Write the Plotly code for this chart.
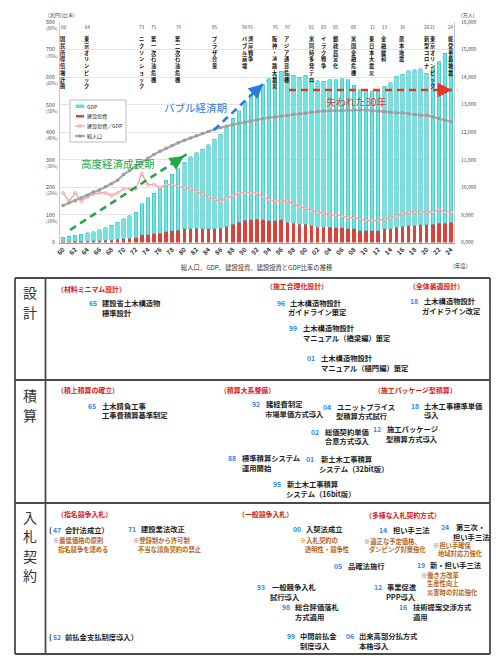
import plotly.graph_objects as go

# ---------------- data ----------------
years = list(range(1960, 2025))
gdp = [16, 20, 22, 26, 30, 33, 39, 45, 53, 62,
       73, 81, 92, 113, 134, 148, 167, 186, 204, 222,
       243, 261, 274, 289, 306, 325, 341, 362, 385, 405,
       430, 456, 476, 490, 515, 530, 540, 540, 537, 534,
       540, 532, 530, 530, 535, 538, 542, 542, 521, 511,
       509, 506, 506, 518, 531, 548, 553, 563, 566, 567,
       550, 568, 586, 616, 628]
construction = [3, 3, 4, 4, 5, 6, 7, 8, 9, 11,
                14, 16, 18, 28, 28, 31, 33, 39, 43, 45,
                49, 50, 51, 50, 49, 50, 51, 58, 66, 73,
                81, 82, 85, 82, 79, 79, 82, 74, 70, 66,
                66, 61, 56, 55, 55, 53, 53, 49, 49, 43,
                43, 43, 43, 49, 49, 56, 58, 61, 61, 64,
                64, 66, 70, 70, 74]
ratio_pct = [18, 15, 18, 15, 16.5, 17.5, 18, 18, 17, 18,
             19.5, 19.5, 19.5, 25, 21, 21, 20, 21, 21, 20.5,
             20, 19.5, 18.5, 17.5, 16.5, 15.5, 15, 16, 17, 18,
             18, 18, 18, 16.5, 15.5, 15, 15, 15, 14, 13,
             12.5, 11.5, 11, 10.5, 10, 10, 9.5, 9, 9, 8.5,
             8, 8, 8, 8.5, 9, 9.5, 10.5, 11, 11, 11,
             11, 11, 12, 11, 11]
population = [9342, 9429, 9518, 9616, 9718, 9828, 9904, 10020, 10133, 10254,
              10467, 10614, 10760, 10910, 11057, 11194, 11309, 11417, 11519, 11615,
              11706, 11790, 11873, 11954, 12031, 12105, 12166, 12224, 12275, 12321,
              12361, 12410, 12457, 12494, 12527, 12557, 12586, 12616, 12649, 12669,
              12693, 12732, 12749, 12769, 12779, 12777, 12790, 12803, 12808, 12803,
              12806, 12783, 12759, 12741, 12724, 12709, 12704, 12671, 12644, 12617,
              12615, 12550, 12495, 12435, 12380]

left_ticks = [0, 100, 200, 300, 400, 500, 600, 700, 800]
left_pct = ["", "(10%)", "(20%)", "(30%)", "(40%)", "(50%)", "(60%)", "(70%)", "(80%)"]
right_ticks = list(range(8000, 16001, 1000))
x_ticks = years[::2]
x_ticktext = ["<b>%02d</b>" % (y % 100) for y in x_ticks]

event_years = [1960, 1964, 1973, 1975, 1979, 1985, 1990, 1991, 1995, 1997,
               2001, 2003, 2005, 2008, 2011, 2013, 2016, 2020, 2021, 2024]
event_labels = ["60", "64", "73", "75", "79", "85", "90", "91", "95", "97",
                "01", "03", "05", "08", "11", "13", "16", "20", "21", "24"]
event_texts = ["国民所得倍増計画", "東京オリンピック", "ニクソンショック", "第一次石油危機",
               "第二次石油危機", "プラザ合意", "バブル崩壊", "湾岸戦争", "阪神・淡路大震災",
               "アジア通貨危機", "米同時多発テロ", "イラク戦争", "郵政民営化", "米国金融危機",
               "東日本大震災", "金融緩和", "熊本地震", "新型コロナ", "東京オリンピック", "能登半島地震"]

FONT = "Noto Sans CJK JP"
W, H = 500, 660


def X(px):
    return px / W


def Y(py):
    return 1 - py / H


# ---------------- traces ----------------
fig = go.Figure()
fig.add_trace(go.Bar(x=years, y=construction, name="建設投資",
                     marker=dict(color="#d8433c", line=dict(width=0)), showlegend=False))
fig.add_trace(go.Bar(x=years, y=gdp, name="GDP",
                     marker=dict(color="#6ee4e4", line=dict(color="#3dbdbd", width=0.6)),
                     showlegend=False))
fig.add_trace(go.Scatter(x=years, y=[r * 10 for r in ratio_pct], name="建設投資／GDP",
                         mode="lines+markers",
                         line=dict(color="#f29c9c", width=1.2),
                         marker=dict(symbol="circle", size=3, color="#fbd0d0",
                                     line=dict(color="#ef8f8f", width=0.6)),
                         showlegend=False))
fig.add_trace(go.Scatter(x=years, y=population, name="総人口", yaxis="y2",
                         mode="lines+markers",
                         line=dict(color="#ababab", width=2.4),
                         marker=dict(symbol="square", size=3, color="#9c9c9c"),
                         showlegend=False))

annotations = []
shapes = []


def ann(x, y, text, size, color, xanchor="left", yanchor="middle", **kw):
    d = dict(x=X(x), y=Y(y), xref="paper", yref="paper", text=text, showarrow=False,
             font=dict(family=FONT, size=size, color=color),
             xanchor=xanchor, yanchor=yanchor, borderpad=0)
    d.update(kw)
    annotations.append(d)


# axis side labels
for v, p in zip(left_ticks, left_pct):
    if p:
        annotations.append(dict(x=X(59), y=v, xref="paper", yref="y", text=p, showarrow=False,
                                xanchor="right", yanchor="middle", yshift=-6, borderpad=0,
                                font=dict(family=FONT, size=4.3, color="#555")))
ann(47, 14.5, "(兆円)(比率)", 5, "#444")
ann(460, 14.5, "(万人)", 5, "#444")
ann(257, 267, "総人口、GDP、建設投資、建設投資とGDP比率の推移", 6.3, "#333", xanchor="center")
ann(452, 266, "(年度)", 5.5, "#333")

# events
for yr, lab, txt in zip(event_years, event_labels, event_texts):
    annotations.append(dict(x=yr, y=Y(27), xref="x", yref="paper", text=lab, showarrow=False,
                            xanchor="center", yanchor="middle", borderpad=0,
                            font=dict(family=FONT, size=4.5, color="#444")))
    annotations.append(dict(x=yr, y=Y(34), xref="x", yref="paper",
                            text="<br>".join("<b>%s</b>" % c for c in txt), showarrow=False,
                            xanchor="center", yanchor="top", borderpad=0,
                            font=dict(family=FONT, size=5.2, color="#111")))

# period labels and dashed arrows
ann(195, 107, "バブル経済期", 10.5, "#2a7be0", xanchor="center")
ann(118, 163, "高度経済成長期", 10.5, "#22a84a", xanchor="center")
ann(356, 101, "失われた30年", 10, "#e8352c", xanchor="center")


def dashed_arrow(x0, y0, x1, y1, color, ax, ay):
    shapes.append(dict(type="line", xref="paper", yref="paper", x0=X(x0), y0=Y(y0),
                       x1=X(x1 - ax * 0.6), y1=Y(y1 - ay * 0.6),
                       line=dict(color=color, width=2.6, dash="7px,5px")))
    annotations.append(dict(x=X(x1), y=Y(y1), xref="paper", yref="paper", text="",
                            showarrow=True, arrowhead=2, arrowsize=1.1, arrowwidth=2.6,
                            arrowcolor=color, ax=ax, ay=ay, standoff=0))


dashed_arrow(70, 230, 184, 156, "#22a84a", -8, 5.3)
dashed_arrow(214, 130, 263, 84, "#2a7be0", -6.5, 6.1)
dashed_arrow(289, 90, 452, 90, "#e8352c", -9, 0)

# manual legend
shapes.append(dict(type="rect", xref="paper", yref="paper", x0=X(70), x1=X(126), y0=Y(100), y1=Y(142),
                   line=dict(color="#bdbdbd", width=1), fillcolor="white"))
shapes.append(dict(type="rect", xref="paper", yref="paper", x0=X(76), x1=X(84), y0=Y(105), y1=Y(107.5),
                   line=dict(color="#3dbdbd", width=0.6), fillcolor="#6ee4e4"))
shapes.append(dict(type="rect", xref="paper", yref="paper", x0=X(76), x1=X(84), y0=Y(115), y1=Y(117.5),
                   line=dict(width=0), fillcolor="#d8433c"))
shapes.append(dict(type="line", xref="paper", yref="paper", x0=X(75), x1=X(85), y0=Y(126), y1=Y(126),
                   line=dict(color="#f29c9c", width=1.2)))
shapes.append(dict(type="circle", xref="paper", yref="paper", x0=X(78.5), x1=X(81.5), y0=Y(124.5), y1=Y(127.5),
                   line=dict(color="#ef8f8f", width=0.6), fillcolor="#fbd0d0"))
shapes.append(dict(type="line", xref="paper", yref="paper", x0=X(75), x1=X(85), y0=Y(136), y1=Y(136),
                   line=dict(color="#ababab", width=2.2)))
shapes.append(dict(type="rect", xref="paper", yref="paper", x0=X(78.5), x1=X(81.5), y0=Y(134.5), y1=Y(137.5),
                   line=dict(width=0), fillcolor="#9c9c9c"))
for yy, tx in [(106, "GDP"), (116, "建設投資"), (126, "建設投資／GDP"), (136, "総人口")]:
    ann(86, yy, tx, 5, "#222")

# ---------------- table ----------------
LC = "#4a4a4a"
for (x0, y0, x1, y1) in [(15, 278, 490, 278), (15, 654, 490, 654), (15, 278, 15, 654),
                         (490, 278, 490, 654), (45.5, 278, 45.5, 654),
                         (15, 380, 490, 380), (15, 503, 490, 503)]:
    shapes.append(dict(type="line", xref="paper", yref="paper", x0=X(x0), y0=Y(y0), x1=X(x1), y1=Y(y1),
                       line=dict(color=LC, width=1.8)))

for ch, yy in [("設", 292), ("計", 312), ("積", 395), ("算", 414.5),
               ("入", 517), ("札", 536), ("契", 555.5), ("約", 575)]:
    ann(30, yy, ch, 14, "#333", xanchor="center")

RED = "#d62020"
BLUE = "#2f86f0"
BROWN = "#b5651d"
BLACK = "#1e1e1e"
TS = 7.3


def title(x, y, s):
    ann(x - 1, y, "<b>%s</b>" % s, 6.9, RED)


def item(nx, y, num, line1, tx=None, line2=None, l2x=None, pre=""):
    if pre:
        ann(nx - 5, y, pre, TS, BLACK)
    ann(nx - 1, y, "<b>%s</b>" % num, 6.9, BLUE)
    if tx is None:
        tx = nx + 13
    ann(tx - 1, y, "<b>%s</b>" % line1, TS, BLACK)
    if line2:
        ann((l2x if l2x is not None else tx) - 1, y + 9.7, "<b>%s</b>" % line2, TS, BLACK)


def note(x, y, s):
    ann(x - 1, y, "<b>%s</b>" % s, 6.3, BROWN)


# 設計
title(57, 289, "（材料ミニマム設計）")
title(266, 286, "（施工合理化設計）")
title(409, 286, "（全体最適設計）")
item(88.5, 303.3, "65", "建設省土木構造物", 101.7, "標準設計")
item(276.7, 302.7, "96", "土木構造物設計", 290, "ガイドライン策定", 288)
item(289, 328, "99", "土木構造物設計", 303, "マニュアル（橋梁編）策定")
item(306.7, 358, "01", "土木構造物設計", 320.7, "マニュアル（樋門編）策定")
item(410, 301, "18", "土木構造物設計", 424, "ガイドライン改定", 422)

# 積算
title(57, 390, "（積上積算の確立）")
title(220, 390, "（積算大系整備）")
title(374, 390, "（施工パッケージ型積算）")
item(88.3, 405.7, "65", "土木請負工事", 101.7, "工事費積算基準制定")
item(251.7, 404.3, "92", "諸経費制定", 266, "市場単価方式導入", 265)
item(322.7, 406.7, "04", "ユニットプライス", 337.3, "型積算方式試行", 336)
item(410.7, 405.7, "18", "土木工事標準単価", 424, "導入")
item(311, 431.7, "02", "総価契約単価", 325, "合意方式導入")
item(373.3, 429.3, "12", "施工パッケージ", 387.3, "型積算方式導入", 386)
item(228.3, 458.3, "88", "標準積算システム", 241.7, "運用開始")
item(306, 459, "01", "新土木工事積算", 320.7, "システム（32bit版）", 319.3)
item(272.7, 484, "95", "新土木工事積算", 286.7, "システム（16bit版）", 286)

# 入札契約
title(57, 514.3, "（指名競争入札）")
title(238, 514.3, "（一般競争入札）")
title(365, 515, "（多様な入札契約方式）")
item(52.7, 530, "47", "会計法成立）", 65, pre="<b>(</b>")
note(53.3, 540.7, "※最低価格の原則")
note(58, 549.5, "指名競争を認める")
item(127.7, 529, "71", "建設業法改正", 141)
note(133, 540.7, "※登録制から許可制")
note(138, 549.5, "不当な請負契約の禁止")
item(52.7, 636.7, "52", "前払金支払制度導入）", 65, pre="<b>(</b>")
item(292.7, 529, "00", "入契法成立", 306)
note(300, 540, "※入札契約の")
note(305, 549, "透明性・競争性")
item(334.3, 565.7, "05", "品確法施行", 348.3)
item(257.3, 587.3, "93", "一般競争入札", 271.7, "試行導入", 270)
item(281.7, 607.3, "98", "総合評価落札", 295, "方式適用")
item(286.7, 636, "99", "中間前払金", 300, "制度導入")
item(346, 636, "06", "出来高部分払方式", 359.3, "本格導入", 358.7)
item(379.3, 530, "14", "担い手三法", 392.7)
note(364.3, 541, "※適正な予定価格、")
note(369.3, 549.5, "ダンピング対策強化")
item(441, 527.3, "24", "第三次・", 456, "担い手三法", 452.7)
note(432.7, 545, "※担い手確保")
note(437.7, 553.5, "地域対応力強化")
item(416.7, 564.5, "19", "新・担い手三法", 430)
note(421, 575, "※働き方改革")
note(426.7, 583.5, "生産性向上")
note(426.7, 592, "災害時の対応強化")
item(374, 587.3, "12", "事業促進", 387.3, "PPP導入", 386)
item(399.3, 607.3, "16", "技術提案交渉方式", 413.3, "適用")

# ---------------- layout ----------------
fig.update_layout(
    template="none",
    width=W, height=H,
    margin=dict(l=0, r=0, t=0, b=0),
    paper_bgcolor="white", plot_bgcolor="white",
    font=dict(family=FONT, color="#333"),
    barmode="stack", bargap=0.42,
    showlegend=False,
    xaxis=dict(domain=[X(60), X(454)], range=[1959.5, 2024.5], anchor="y",
               tickmode="array", tickvals=x_ticks, ticktext=x_ticktext, tickangle=-45,
               tickfont=dict(family=FONT, size=6.3, color="#333"),
               showgrid=False, zeroline=False, showline=True, linecolor="#a0a0a0", linewidth=1,
               ticks="", automargin=False),
    yaxis=dict(domain=[Y(242.5), Y(22)], range=[0, 800], tickmode="array",
               tickvals=left_ticks, ticktext=[str(v) for v in left_ticks],
               tickfont=dict(family=FONT, size=5.3, color="#444"),
               showgrid=True, gridcolor="#e4e4e4", gridwidth=0.8, zeroline=False,
               showline=True, linecolor="#c8c8c8", ticks="", ticklabelstandoff=3,
               automargin=False),
    yaxis2=dict(overlaying="y", side="right", anchor="x", range=[8000, 16000],
                tickmode="array", tickvals=right_ticks,
                ticktext=["{:,}".format(v) for v in right_ticks],
                tickfont=dict(family=FONT, size=5, color="#444"),
                showgrid=False, zeroline=False, showline=True, linecolor="#c8c8c8",
                ticks="", ticklabelstandoff=5, automargin=False),
    annotations=annotations,
    shapes=shapes,
)

fig.write_html("out.html")
